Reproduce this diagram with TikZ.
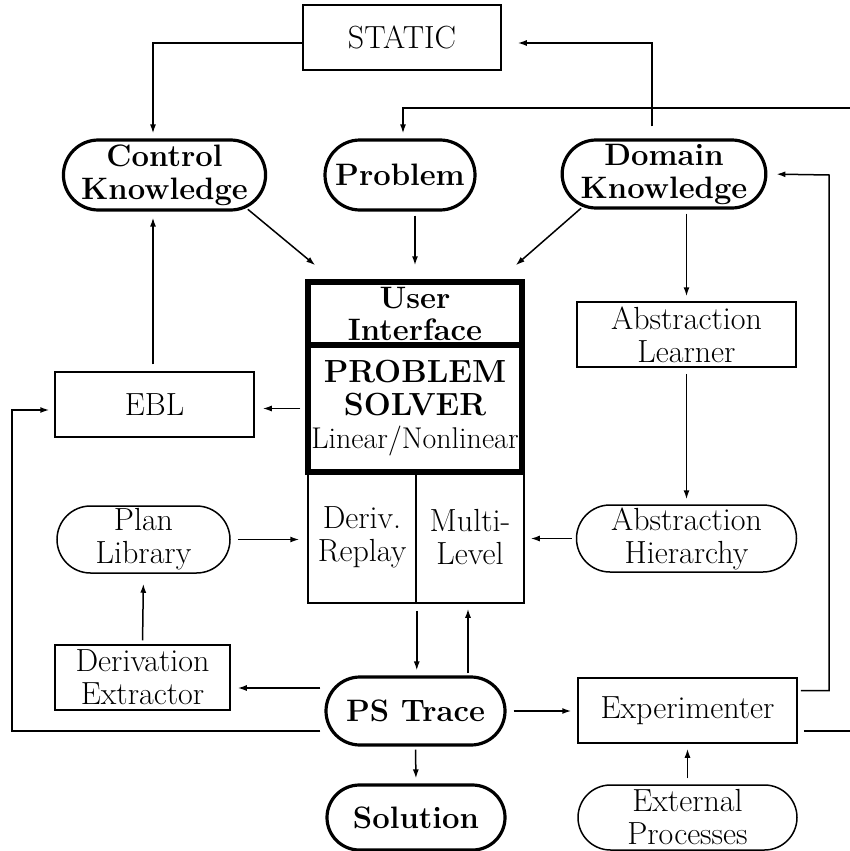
\documentclass[tikz,border=0pt]{standalone}
\usetikzlibrary{shapes.misc,arrows.meta,calc}
\begin{document}
\begin{tikzpicture}[x=1pt,y=-1pt,
  every node/.style={font=\fontsize{32}{33}\selectfont, align=center, inner sep=0pt},
  box/.style={draw, rectangle, line width=1.5pt},
  pill/.style={draw, rounded rectangle, line width=1.5pt},
  tpill/.style={draw, rounded rectangle, line width=3.2pt, font=\fontsize{31}{33}\selectfont\bfseries},
  heavy/.style={draw, rectangle, line width=5.5pt},
  arr/.style={line width=1.5pt, -{Latex[length=9pt,width=6pt]}},
  ln/.style={line width=1.5pt}]
\useasboundingbox (0,0) rectangle (850,851);

% nodes
\node[box, minimum width=198pt, minimum height=65pt] (static) at (402,37.5) {STATIC};
\node[tpill, minimum width=201pt, minimum height=70pt] (ck) at (164.5,175) {Control\\Knowledge};
\node[tpill, minimum width=150pt, minimum height=70pt] (prob) at (400,175) {Problem};
\node[tpill, minimum width=198pt, minimum height=68pt] (dk) at (664,174) {Domain\\Knowledge};

\node[box, minimum width=108pt, minimum height=131pt] (deriv) at (362,537.5) {Deriv.\\Replay};
\node[box, minimum width=108pt, minimum height=131pt] (multi) at (470,537.5) {Multi-\\Level};
\node[heavy, minimum width=214pt, minimum height=63pt, font=\fontsize{31}{32}\selectfont\bfseries] (ui) at (415,313.5) {User\\Interface};
\node[heavy, minimum width=214pt, minimum height=127pt] (ps) at (415,408.5)
  {\fontsize{32}{32}\selectfont\textbf{PROBLEM}\\\textbf{SOLVER}\\{\fontsize{30}{34}\selectfont Linear/Nonlinear}};

\node[box, minimum width=199pt, minimum height=65pt] (ebl) at (154.5,404.5) {EBL};
\node[box, minimum width=219pt, minimum height=65pt] (al) at (686.5,334.5) {Abstraction\\Learner};
\node[pill, minimum width=220pt, minimum height=67pt] (ah) at (686.5,538.5) {Abstraction\\Hierarchy};
\node[pill, minimum width=173pt, minimum height=67pt] (pl) at (143.5,539.5) {Plan\\Library};
\node[box, minimum width=175pt, minimum height=65pt] (de) at (142.5,677.5) {Derivation\\Extractor};
\node[tpill, minimum width=179pt, minimum height=68pt] (pst) at (415.5,711) {PS Trace};
\node[box, minimum width=219pt, minimum height=65pt] (exp) at (687.5,710.5) {Experimenter};
\node[pill, minimum width=219pt, minimum height=65pt] (ext) at (687.5,817.5) {External\\Processes};
\node[tpill, minimum width=178pt, minimum height=65pt] (sol) at (416,817.5) {Solution};

\coordinate (re1) at (850,108);
\coordinate (re2) at (850,731);
\coordinate (lc) at (12,410);
\coordinate (rc) at (829,175);

% connectors
\draw[arr, shorten <=12pt, shorten >=16pt] ([xshift=-12pt]dk.north) |- ([yshift=-5.5pt]static.east);
\draw[arr, shorten >=5pt] ([yshift=-5.5pt]static.west) -| ([xshift=-11.5pt]ck.north);
\draw[arr, shorten >=5pt] (re1) -| ([xshift=3pt]prob.north);
\draw[arr, shorten <=2pt] (ck.-22) -- ([shift={(10pt,14pt)}]ui.north west);
\draw[arr, shorten <=4pt, shorten >=14pt] (prob.south -| ui.north) -- (ui.north);
\draw[arr, shorten <=2pt] (dk.-158) -- ([shift={(-9pt,14pt)}]ui.north east);
\draw[arr, shorten <=4pt, shorten >=5pt] (dk.south -| al.north) -- (al.north);
\draw[arr, shorten <=6pt, shorten >=5pt] (al.south) -- (ah.north);
\draw[arr, shorten <=4pt, shorten >=6pt] (ah.west) -- (ah.west -| multi.east);
\draw[arr, shorten <=7pt, shorten >=8pt] (pl.east) -- (pl.east -| deriv.west);
\draw[arr, shorten <=4pt, shorten >=10pt] (de.north) -- (pl.south);
\draw[arr, shorten <=4pt, shorten >=7pt] ([yshift=23pt]pst.west) -- ([yshift=23pt]pst.west -| de.east);
\draw[arr, shorten <=7pt, shorten >=5pt] (deriv.south east) -- (deriv.south east |- pst.north);
\draw[arr, shorten <=2pt, shorten >=5pt] ([xshift=-2pt]pst.north -| multi.south) -- ([xshift=-2pt]multi.south);
\draw[arr, shorten <=4pt, shorten >=5pt] ([yshift=-20pt]pst.west) -| (lc) -- ([yshift=-5.5pt]ebl.west);
\draw[arr, shorten <=5pt, shorten >=8pt] (ps.west) -- (ps.west -| ebl.east);
\draw[arr, shorten <=7pt, shorten >=6pt] ([xshift=-1.5pt]ebl.north) -- ([xshift=-1.5pt]ebl.north |- ck.south);
\draw[arr, shorten <=7pt, shorten >=6pt] (pst.east) -- (pst.east -| exp.west);
\draw[arr, shorten <=3pt, shorten >=9pt] ([yshift=20pt]exp.east) -| (rc) -- (dk.east);
\draw[ln, shorten <=6pt] ([yshift=-20.5pt]exp.east) -- (re2);
\draw[arr, shorten <=6pt, shorten >=5pt] (ext.north) -- (exp.south);
\draw[arr, shorten <=3pt, shorten >=5pt] (pst.south) -- (sol.north);
\end{tikzpicture}
\end{document}
